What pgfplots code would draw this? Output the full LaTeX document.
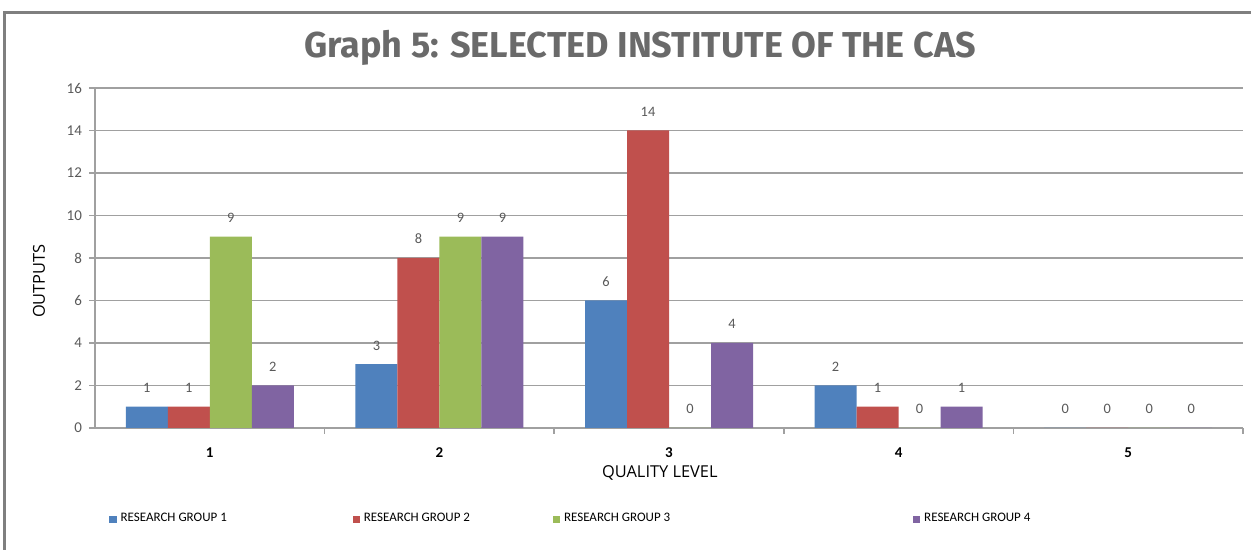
\documentclass[border=0pt]{standalone}
\usepackage{fontspec}
\setmainfont{Carlito}
\newfontfamily\titlefont{Fira Sans}
\newfontfamily\labelfont{Open Sans}
\usepackage{pgfplots}
\pgfplotsset{compat=1.18}
\definecolor{rg1}{HTML}{4F81BD}
\definecolor{rg2}{HTML}{C0504D}
\definecolor{rg3}{HTML}{9BBB59}
\definecolor{rg4}{HTML}{8064A2}
\definecolor{titlegray}{HTML}{6A6A6A}
\definecolor{framegray}{HTML}{7F7F7F}
\definecolor{gridgray}{HTML}{A0A0A0}
\definecolor{labelgray}{HTML}{595959}
\pgfplotsset{/pgf/number format/assume math mode=true}

\begin{document}
\begin{tikzpicture}[x=0.5pt,y=0.5pt]
% picture is laid out in reference pixels, y measured from the bottom
\useasboundingbox (0,0) rectangle (1251,550);
\draw[framegray, line width=1.5pt] (4,0) -- (4,537) -- (1251,537);
\node[font=\titlefont\bfseries\fontsize{18}{21}\selectfont, text=titlegray]
  at (640,502) {Graph 5: SELECTED INSTITUTE OF THE CAS};

\begin{axis}[
  at={(47.5pt,61pt)}, anchor=south west,
  scale only axis,
  width=574pt, height=170pt,
  ybar=0pt, bar width=21pt,
  xmin=0.5, xmax=5.5,
  ymin=0, ymax=16,
  ytick={0,2,...,16},
  xtick={1,2,3,4,5},
  xticklabels={1,2,3,4,5},
  axis x line=bottom, axis y line=left,
  axis line style={gridgray, line width=0.9pt, -},
  ymajorgrids, major grid style={gridgray, line width=0.8pt},
  tick align=outside,
  ytick style={gridgray, line width=0.8pt},
  major tick length=3pt,
  xtick style={draw=none},
  extra x ticks={1.5,2.5,3.5,4.5,5.5},
  extra x tick labels={},
  extra x tick style={xtick style={draw=gridgray, line width=0.8pt}, grid=none},
  yticklabel style={font=\fontsize{7.5}{9}\selectfont, text=labelgray},
  xticklabel style={font=\bfseries\fontsize{7.5}{9}\selectfont, text=black, yshift=-3.5pt},
  ylabel={OUTPUTS},
  xlabel={QUALITY LEVEL},
  label style={font=\labelfont\fontsize{8.2}{10}\selectfont, text=black},
  ylabel style={at={(axis description cs:-0.0488,0.432)}, anchor=center},
  xlabel style={at={(axis description cs:0.492,-0.132)}, anchor=center},
  nodes near coords,
  every node near coord/.append style={font=\fontsize{7.2}{9}\selectfont, text=labelgray, yshift=3.5pt},
  legend columns=4,
  legend style={draw=none, fill=none, at={(rel axis cs:0.007,-0.268)}, anchor=west,
    font=\fontsize{6.5}{8}\selectfont, column sep=0pt},
  legend image code/.code={\fill[#1] (0pt,-1.8pt) rectangle (3.6pt,1.8pt);},
]
\addplot[fill=rg1, draw=none] coordinates {(1,1) (2,3) (3,6) (4,2) (5,0)};
\addlegendentry{\makebox[114pt][l]{RESEARCH GROUP 1}}
\addplot[fill=rg2, draw=none] coordinates {(1,1) (2,8) (3,14) (4,1) (5,0)};
\addlegendentry{\makebox[92.5pt][l]{RESEARCH GROUP 2}}
\addplot[fill=rg3, draw=none] coordinates {(1,9) (2,9) (3,0) (4,0) (5,0)};
\addlegendentry{\makebox[172.5pt][l]{RESEARCH GROUP 3}}
\addplot[fill=rg4, draw=none] coordinates {(1,2) (2,9) (3,4) (4,1) (5,0)};
\addlegendentry{RESEARCH GROUP 4}
\end{axis}
\end{tikzpicture}
\end{document}
